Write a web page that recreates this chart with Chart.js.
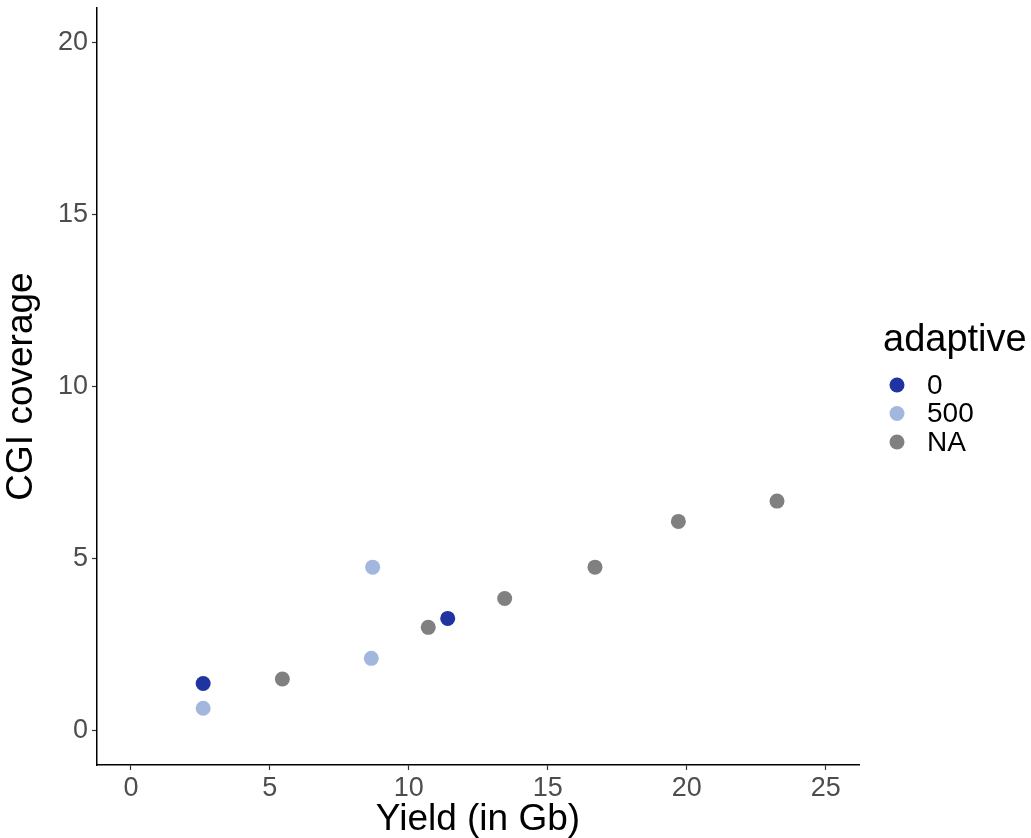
<!DOCTYPE html>
<html>
<head>
<meta charset="utf-8">
<script src="https://cdn.jsdelivr.net/npm/chart.js@4/dist/chart.umd.min.js"></script>
<style>
  html, body { margin: 0; padding: 0; background: #fff; }
  #wrap { width: 1031px; height: 838px; position: relative; }
</style>
</head>
<body>
<div id="wrap"><canvas id="myChart" width="1031" height="838"></canvas></div>
<script>
// valores
const grupos = ['0', '500', 'NA'];
const colores = ['#1f34a0', '#a3b6de', '#808080'];

const yieldCero = [2.6, 11.4];
const cgiCero = [1.37, 3.26];

const yield500 = [2.6, 8.7, 8.65];
const cgi500 = [0.65, 4.75, 2.1];

const yieldNA = [5.45, 10.7, 13.45, 16.7, 19.7, 23.25];
const cgiNA = [1.5, 3.0, 3.84, 4.75, 6.08, 6.67];

const ticksX = [0, 5, 10, 15, 20, 25];
const ticksY = [0, 5, 10, 15, 20];

const fuente = "'Liberation Sans', Arial, sans-serif";

const juntaPuntos = (xs, ys) => xs.map((x, i) => ({ x: x, y: ys[i] }));

const leyenda = {
    id: 'leyenda',
    afterDraw(chart) {
        const ctx = chart.ctx;
        ctx.save();
        ctx.fillStyle = '#000';
        ctx.font = '38px ' + fuente;
        ctx.textBaseline = 'alphabetic';
        ctx.textAlign = 'left';
        ctx.fillText('adaptive', 883, 351);
        ctx.font = '28px ' + fuente;
        ctx.textBaseline = 'middle';
        grupos.forEach((g, i) => {
            const y = 385 + i * 28.5;
            ctx.beginPath();
            ctx.fillStyle = colores[i];
            ctx.arc(897, y, 7.5, 0, Math.PI * 2);
            ctx.fill();
            ctx.fillStyle = '#000';
            ctx.fillText(g, 927, y + 1);
        });
        ctx.restore();
    }
};

const despliegaGrafica = () => {
    const ctx = document.getElementById('myChart');
    new Chart(ctx, {
        type: 'scatter',
        data: {
            datasets: [
                { label: grupos[0], data: juntaPuntos(yieldCero, cgiCero), backgroundColor: colores[0] },
                { label: grupos[1], data: juntaPuntos(yield500, cgi500), backgroundColor: colores[1] },
                { label: grupos[2], data: juntaPuntos(yieldNA, cgiNA), backgroundColor: colores[2] }
            ].map(d => Object.assign(d, { pointRadius: 7.5, pointHoverRadius: 7.5, borderWidth: 0 }))
        },
        options: {
            responsive: false,
            animation: false,
            layout: { padding: { left: 0, right: 172, top: 8, bottom: 0 } },
            plugins: {
                legend: { display: false },
                tooltip: { enabled: false }
            },
            scales: {
                x: {
                    type: 'linear',
                    min: -1.22,
                    max: 26.2,
                    afterBuildTicks: (scale) => { scale.ticks = ticksX.map(v => ({ value: v })); },
                    afterFit: (scale) => { scale.height = 73; },
                    grid: { drawOnChartArea: false, tickLength: 5, color: '#333', tickWidth: 1.2 },
                    border: { color: '#000', width: 1.5 },
                    ticks: { color: '#4d4d4d', font: { size: 27, family: fuente }, padding: 2, maxRotation: 0 },
                    title: { display: true, text: 'Yield (in Gb)', color: '#000', font: { size: 37, family: fuente }, padding: { top: 0, bottom: -4 } }
                },
                y: {
                    type: 'linear',
                    min: -1.0,
                    max: 21.0,
                    afterBuildTicks: (scale) => { scale.ticks = ticksY.map(v => ({ value: v })); },
                    afterFit: (scale) => {
                        scale.width = 97;
                        scale.paddingTop = 0;
                        scale.paddingBottom = 0;
                    },
                    grid: { drawOnChartArea: false, tickLength: 5, color: '#333', tickWidth: 1.2 },
                    border: { color: '#000', width: 1.5 },
                    ticks: { color: '#4d4d4d', font: { size: 27, family: fuente }, padding: 4 },
                    title: { display: true, text: 'CGI coverage', color: '#000', font: { size: 37, family: fuente }, padding: { top: 0, bottom: 4 } }
                }
            }
        },
        plugins: [leyenda]
    });
};

despliegaGrafica();
</script>
</body>
</html>
